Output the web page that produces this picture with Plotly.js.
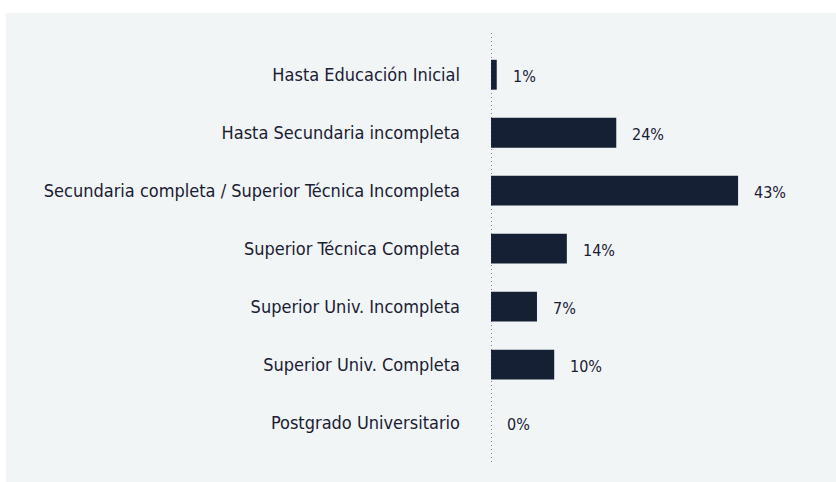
<!DOCTYPE html>
<html>
<head>
<meta charset="utf-8">
<script src="https://cdn.plot.ly/plotly-3.0.1.min.js"></script>
<style>
  html, body { margin: 0; padding: 0; background: #ffffff; width: 836px; height: 482px; overflow: hidden; }
  #chart { position: absolute; left: 6px; top: 13px; width: 830px; height: 469px; }
</style>
</head>
<body>
<div id="chart"></div>
<script>
const categories = [
  "Hasta Educación Inicial",
  "Hasta Secundaria incompleta",
  "Secundaria completa / Superior Técnica Incompleta",
  "Superior Técnica Completa",
  "Superior Univ. Incompleta",
  "Superior Univ. Completa",
  "Postgrado Universitario"
];
// bar lengths (percent units)
const barValues = [1.0, 21.8, 43.0, 13.2, 8.0, 11.0, 0];
// printed labels
const valueLabels = ["1%", "24%", "43%", "14%", "7%", "10%", "0%"];

const FONT = "'DejaVu Sans Condensed', 'Liberation Sans Narrow', 'Roboto', sans-serif";
const TEXT = "#1a2033";
const BAR = "#162035";

const idx = categories.map((_, i) => i);

const trace = {
  type: "bar",
  orientation: "h",
  x: barValues,
  y: idx,
  width: 0.515,
  marker: { color: BAR, line: { width: 0 } },
  hoverinfo: "skip"
};

const annotations = barValues.map((v, i) => ({
  x: v, y: i, xref: "x", yref: "y",
  text: valueLabels[i],
  showarrow: false,
  xanchor: "left", yanchor: "middle",
  xshift: 14, yshift: -2,
  font: { family: FONT, size: 16, color: TEXT }
}));

const layout = {
  width: 830, height: 469,
  margin: { l: 485, r: 10, t: 20, b: 20 },
  paper_bgcolor: "#f1f5f6",
  plot_bgcolor: "#f1f5f6",
  showlegend: false,
  font: { family: FONT, size: 16, color: TEXT },
  xaxis: {
    range: [0, 58.3],
    showgrid: false, zeroline: false, showline: false,
    showticklabels: false, ticks: ""
  },
  yaxis: {
    range: [6.68, -0.72],
    tickvals: idx,
    ticktext: categories,
    showgrid: false, zeroline: false, showline: false,
    ticks: "",
    ticklabelstandoff: 30,
    tickfont: { family: FONT, size: 18, color: TEXT }
  },
  shapes: [{
    type: "line", xref: "x", yref: "paper",
    x0: 0, x1: 0, y0: 0, y1: 1,
    line: { color: "#3a3f4c", width: 1.2, dash: "1px,3px" }
  }],
  annotations: annotations
};

Plotly.newPlot("chart", [trace], layout, { displayModeBar: false, staticPlot: true });
</script>
</body>
</html>
